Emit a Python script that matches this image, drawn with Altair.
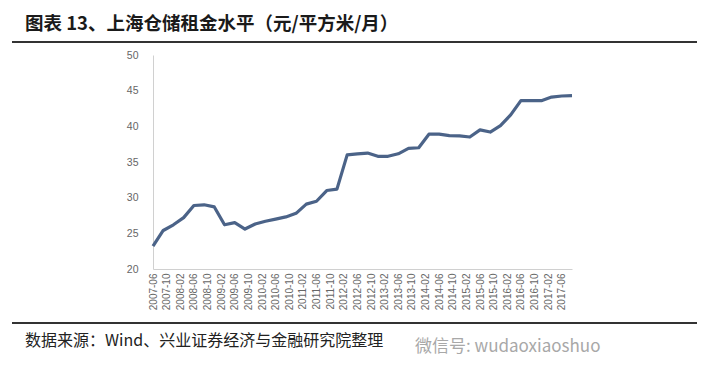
import altair as alt
import pandas as pd

# Quarterly observations (month labels) and rent level (元/平方米/月)
quarters = [
    "2007-06", "2007-09", "2007-12", "2008-03", "2008-06", "2008-09", "2008-12",
    "2009-03", "2009-06", "2009-09", "2009-12", "2010-03", "2010-06", "2010-09",
    "2010-12", "2011-03", "2011-06", "2011-09", "2011-12", "2012-03", "2012-06",
    "2012-09", "2012-12", "2013-03", "2013-06", "2013-09", "2013-12", "2014-03",
    "2014-06", "2014-09", "2014-12", "2015-03", "2015-06", "2015-09", "2015-12",
    "2016-03", "2016-06", "2016-09", "2016-12", "2017-03", "2017-06", "2017-09",
]
rent = [
    23.2, 25.4, 26.2, 27.2, 28.9, 29.0, 28.7,
    26.2, 26.5, 25.6, 26.3, 26.7, 27.0, 27.3,
    27.8, 29.1, 29.5, 31.0, 31.2, 36.0, 36.15,
    36.25, 35.8, 35.8, 36.15, 36.9, 37.0, 38.9,
    38.9, 38.7, 38.65, 38.5, 39.5, 39.2, 40.1,
    41.6, 43.6, 43.6, 43.6, 44.1, 44.25, 44.3,
]
tick_labels = [
    "2007-06", "2007-10", "2008-02", "2008-06", "2008-10", "2009-02", "2009-06",
    "2009-10", "2010-02", "2010-06", "2010-10", "2011-02", "2011-06", "2011-10",
    "2012-02", "2012-06", "2012-10", "2013-02", "2013-06", "2013-10", "2014-02",
    "2014-06", "2014-10", "2015-02", "2015-06", "2015-10", "2016-02", "2016-06",
    "2016-10", "2017-02", "2017-06",
]
y_ticks = [20, 25, 30, 35, 40, 45, 50]

title_text = "图表 13、上海仓储租金水平（元/平方米/月）"
source_text = "数据来源：Wind、兴业证券经济与金融研究院整理"
watermark_text = "微信号: wudaoxiaoshuo"


def month_index(s):
    y, m = s.split("-")
    return (int(y) - 2007) * 12 + int(m) - 6


df = pd.DataFrame({"t": [month_index(q) for q in quarters], "date": quarters, "rent": rent})
tick_pos = [month_index(t) for t in tick_labels]
label_expr = "[" + ",".join("'" + t + "'" for t in tick_labels) + "][round(datum.value/4)]"

line = alt.Chart(df).mark_line(color="#4b6388", strokeWidth=3.2, strokeJoin="round").encode(
    x=alt.X(
        "t:Q",
        scale=alt.Scale(domain=[0, month_index(quarters[-1])], nice=False, zero=False),
        axis=alt.Axis(
            values=tick_pos, labelExpr=label_expr, labelAngle=-90, title=None,
            grid=False, ticks=False, domainColor="#d0d0d0", domainWidth=1,
            labelFont="Liberation Sans", labelFontSize=10, labelColor="#666666",
            labelPadding=4, labelOverlap=False, labelBound=False, labelFlush=False,
        ),
    ),
    y=alt.Y(
        "rent:Q",
        scale=alt.Scale(domain=[20, 50], nice=False, zero=False),
        axis=alt.Axis(
            values=y_ticks, title=None, grid=False, ticks=False,
            domainColor="#d0d0d0", domainWidth=1,
            labelFont="Liberation Sans", labelFontSize=10.5, labelColor="#666666",
            labelPadding=15,
        ),
    ),
)

anno = alt.Data(values=[{"k": 1}])

top_rule = alt.Chart(anno).mark_rule(color="#333333", strokeWidth=2).encode(
    x=alt.value(-141), x2=alt.value(544), y=alt.value(-13)
)
bottom_rule = alt.Chart(anno).mark_rule(color="#333333", strokeWidth=2).encode(
    x=alt.value(-141), x2=alt.value(544), y=alt.value(268)
)
title = alt.Chart(anno).mark_text(
    text=title_text, align="left", baseline="middle", font="Noto Sans CJK SC",
    fontSize=18.5, fontWeight="bold", color="#1a1a1a",
).encode(x=alt.value(-128), y=alt.value(-31))
source = alt.Chart(anno).mark_text(
    text=source_text, align="left", baseline="middle", font="Noto Sans CJK SC",
    fontSize=16, color="#222222",
).encode(x=alt.value(-128), y=alt.value(286))
watermark = alt.Chart(anno).mark_text(
    text=watermark_text, align="left", baseline="middle", font="Noto Sans CJK SC",
    fontSize=17, color="#a8a8a8",
).encode(x=alt.value(262), y=alt.value(292))

chart = alt.layer(line, top_rule, bottom_rule, title, source, watermark).properties(
    width=419,
    height=214,
    padding={"left": 145, "top": 47, "right": 133, "bottom": 94},
    autosize=alt.AutoSizeParams(type="none"),
).configure_view(stroke=None)

chart.save("out.html", embed_options={"renderer": "svg", "actions": False})
